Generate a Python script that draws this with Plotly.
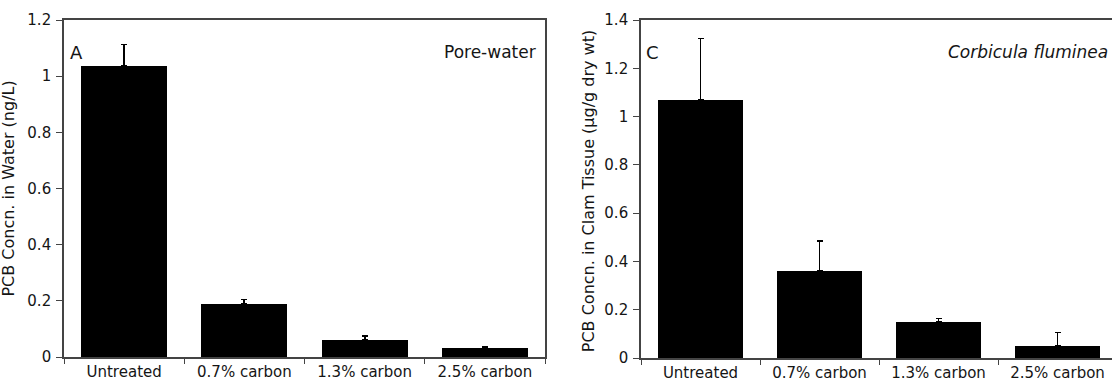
import plotly.graph_objects as go

categories = ["Untreated", "0.7% carbon", "1.3% carbon", "2.5% carbon"]
water_values = [1.036, 0.188, 0.062, 0.033]
water_err = [0.077, 0.017, 0.013, 0.003]
clam_values = [1.070, 0.360, 0.150, 0.051]
clam_err = [0.253, 0.123, 0.014, 0.055]
water_ticks = [0, 0.2, 0.4, 0.6, 0.8, 1, 1.2]
clam_ticks = [0, 0.2, 0.4, 0.6, 0.8, 1, 1.2, 1.4]

W, H = 1112, 381
FONT = "DejaVu Sans, Arial, sans-serif"
AX = "#444444"
TXT = "#151515"

fig = go.Figure()
fig.add_trace(go.Bar(
    x=categories, y=water_values, width=0.715, marker=dict(color="black", line=dict(width=0)),
    error_y=dict(type="data", symmetric=False, array=water_err, arrayminus=[0]*4,
                 color="black", thickness=1.8, width=3),
    xaxis="x", yaxis="y", showlegend=False))
fig.add_trace(go.Bar(
    x=categories, y=clam_values, width=0.715, marker=dict(color="black", line=dict(width=0)),
    error_y=dict(type="data", symmetric=False, array=clam_err, arrayminus=[0]*4,
                 color="black", thickness=1.8, width=3),
    xaxis="x2", yaxis="y2", showlegend=False))

mt, mb = 20, 23
ph = H - mt - mb
ytickfont = dict(family=FONT, size=15, color=TXT)
xtickfont = dict(family=FONT, size=15, color=TXT)

def xax(domain, rng, anchor, mirror):
    return dict(domain=domain, range=rng, anchor=anchor, type="category",
                tickson="boundaries", ticks="outside", ticklen=5, tickwidth=1.3, tickcolor=AX,
                showline=True, linecolor=AX, linewidth=1.6, mirror=mirror,
                showgrid=False, zeroline=False, tickfont=xtickfont, ticklabelstandoff=0)

def yax(domain, rng, anchor, tv, mirror):
    return dict(domain=domain, range=rng, anchor=anchor, tickvals=tv,
                ticks="outside", ticklen=6, tickwidth=1.3, tickcolor=AX,
                showline=True, linecolor=AX, linewidth=1.6, mirror=mirror,
                showgrid=False, zeroline=False, tickfont=ytickfont, ticklabelstandoff=2)

fig.update_layout(
    width=W, height=H, margin=dict(l=0, r=0, t=mt, b=mb, autoexpand=False),
    paper_bgcolor="white", plot_bgcolor="white", bargap=0,
    xaxis=xax([64/W, 545/W], [-0.5, 3.5], "y", True),
    yaxis=yax([1/ph, 1], [0, 1.2], "x", water_ticks, True),
    xaxis2=xax([641/W, 1], [-0.5, -0.5 + (W - 641)/119.0], "y2", True),
    yaxis2=yax([0, 1], [0, 1.4], "x2", clam_ticks, False),
    annotations=[
        dict(text="PCB Concn. in Water (ng/L)", x=9/W, y=(H - 190)/H, xref="paper", yref="paper",
             textangle=-90, showarrow=False, xanchor="center", yanchor="middle",
             font=dict(family=FONT, size=16, color=TXT)),
        dict(text="PCB Concn. in Clam Tissue (µg/g dry wt)", x=588/W, y=(H - 193)/H, xref="paper", yref="paper",
             textangle=-90, showarrow=False, xanchor="center", yanchor="middle",
             font=dict(family=FONT, size=16, color=TXT)),
        dict(text="A", x=68/W, y=(H - 23)/H, xref="paper", yref="paper", showarrow=False,
             xanchor="left", yanchor="top", font=dict(family=FONT, size=18, color=TXT)),
        dict(text="Pore-water", x=538/W, y=(H - 23)/H, xref="paper", yref="paper", showarrow=False,
             xanchor="right", yanchor="top", font=dict(family=FONT, size=17, color=TXT)),
        dict(text="C", x=644/W, y=(H - 23)/H, xref="paper", yref="paper", showarrow=False,
             xanchor="left", yanchor="top", font=dict(family=FONT, size=18, color=TXT)),
        dict(text="<i>Corbicula fluminea</i>", x=1110/W, y=(H - 23)/H, xref="paper", yref="paper", showarrow=False,
             xanchor="right", yanchor="top", font=dict(family=FONT, size=17, color=TXT)),
    ],
)

fig.write_html("out.html")
